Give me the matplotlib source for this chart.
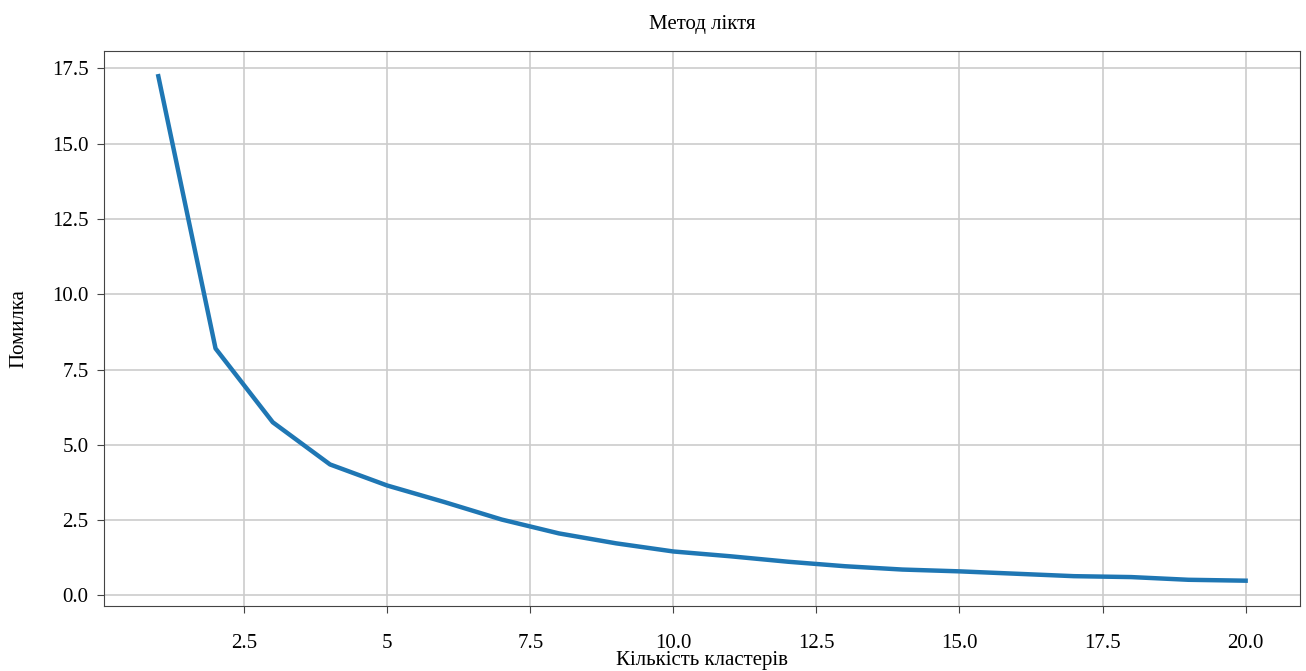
import numpy as np
import matplotlib
matplotlib.use('Agg')
import matplotlib.pyplot as plt

# кількість кластерів та похибка (inertia)
n_clusters = list(range(1, 21))
errors = [17.24, 8.2, 5.75, 4.35, 3.65, 3.1, 2.52, 2.06, 1.73, 1.46,
          1.3, 1.12, 0.97, 0.86, 0.8, 0.72, 0.64, 0.61, 0.52, 0.49]

x_ticks = [2.5, 5, 7.5, 10.0, 12.5, 15.0, 17.5, 20.0]
x_tick_labels = ['2.5', '5', '7.5', '10.0', '12.5', '15.0', '17.5', '20.0']

plt.rcParams['font.family'] = ['Liberation Serif', 'DejaVu Serif']

fig = plt.figure(figsize=(13.06, 6.71), dpi=100)
ax = fig.add_axes([0.0796, 0.097, 0.9158, 0.827])

ax.plot(n_clusters, errors, color='#1f77b4', linewidth=3.2)

ax.set_xticks(x_ticks)
ax.set_xticklabels(x_tick_labels)
ax.grid(True, color='#cccccc', linewidth=1.2)
ax.set_axisbelow(True)

for s in ax.spines.values():
    s.set_color('#444444')
ax.tick_params(colors='#444444', labelcolor='black', labelsize=15, length=5)
ax.tick_params(axis='x', pad=15)
ax.tick_params(axis='y', pad=6)

ax.set_title('Метод ліктя', fontsize=15, pad=16)
ax.set_xlabel('Кількість кластерів', fontsize=15)
ax.set_ylabel('Помилка', fontsize=15)
ax.xaxis.set_label_coords(0.5, -0.082)
ax.yaxis.set_label_coords(-0.063, 0.5)

fig.savefig('out.png', dpi=100)
